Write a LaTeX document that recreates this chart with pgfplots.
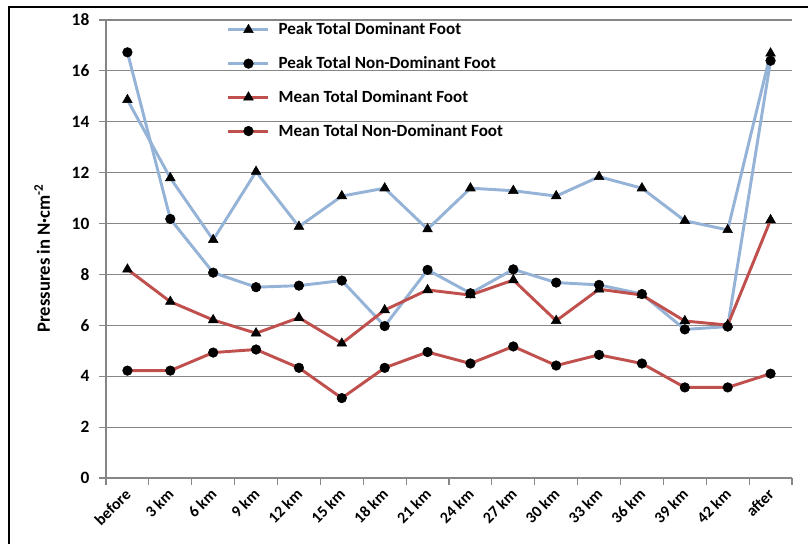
\documentclass[border=0pt]{standalone}
\usepackage{pgfplots}
\pgfplotsset{compat=1.18}
\usepackage{fontspec}
\setmainfont{Carlito}
\definecolor{pblue}{RGB}{149,179,215}
\definecolor{pred}{RGB}{192,80,77}
\definecolor{gridgray}{RGB}{134,134,134}
\pgfplotstableread{
x PD PN MD MN
0 14.86 16.73 8.20 4.22
1 11.79 10.18 6.93 4.22
2 9.36 8.07 6.21 4.93
3 12.04 7.50 5.69 5.05
4 9.88 7.56 6.30 4.33
5 11.08 7.76 5.29 3.14
6 11.39 5.97 6.60 4.33
7 9.78 8.18 7.39 4.95
8 11.39 7.26 7.19 4.50
9 11.29 8.20 7.78 5.17
10 11.08 7.68 6.18 4.42
11 11.84 7.59 7.42 4.84
12 11.39 7.23 7.19 4.50
13 10.11 5.84 6.17 3.56
14 9.75 5.95 6.01 3.56
15 16.69 16.40 10.14 4.10
}\datatable
\begin{document}
\begin{tikzpicture}
\useasboundingbox (-79.5pt,-49.5pt) rectangle (526.5pt,358.5pt);
\fill[white] (-79.5pt,-49.5pt) rectangle (526.5pt,358.5pt);
\draw[black, line width=1.5pt] (-72.75pt,-49.5pt) -- (-72.75pt,353.25pt) -- (526.5pt,353.25pt);
\begin{axis}[
 scale only axis, width=514.5pt, height=343.5pt,
 at={(0,0)}, anchor=south west,
 xmin=-0.5, xmax=15.5, ymin=0, ymax=18,
 xtick={0,...,15},
 xticklabels={before,3 km,6 km,9 km,12 km,15 km,18 km,21 km,24 km,27 km,30 km,33 km,36 km,39 km,42 km,after},
 major x tick style={draw=none},
 minor xtick={-0.5,0.5,...,15.5},
 ytick={0,2,...,18},
 ymajorgrids,
 grid style={gridgray, line width=0.8pt},
 axis x line*=bottom, axis y line*=left,
 axis line style={gridgray, line width=0.8pt},
 tick style={gridgray, line width=0.8pt},
 tick align=outside,
 major tick length=5pt, minor tick length=5pt,
 /pgf/number format/assume math mode=true,
 ticklabel style={font=\fontsize{12}{14}\selectfont\bfseries, text=black},
 yticklabel style={font=\fontsize{13}{15}\selectfont\bfseries, xshift=-4pt},
 xticklabel style={rotate=45, anchor=east, yshift=-4pt},
 ylabel={\bfseries Pressures in N·cm\textsuperscript{-2}},
 ylabel style={font=\fontsize{14}{16}\selectfont, at={(axis description cs:-0.093,0.48)}, anchor=center},
 legend cell align=left,
 legend style={draw=none, fill=none, at={(0.176,1.0)}, anchor=north west,
   font=\fontsize{12.8}{15}\selectfont\bfseries, row sep=10.8pt, inner sep=0pt, column sep=4.5pt},
 legend image code/.code={\draw[mark repeat=2,mark phase=2,#1] plot coordinates {(0pt,0pt) (15pt,0pt) (30pt,0pt)};},
]
\addplot[pblue, line width=2.2pt, mark=triangle*, mark size=4.2pt, mark options={draw=black, fill=black, line width=0.4pt}] table[x=x,y=PD] {\datatable};
\addlegendentry{Peak Total Dominant Foot}
\addplot[pblue, line width=2.2pt, mark=*, mark size=3.6pt, mark options={draw=black, fill=black, line width=0.4pt}] table[x=x,y=PN] {\datatable};
\addlegendentry{Peak Total Non-Dominant Foot}
\addplot[pred, line width=2.2pt, mark=triangle*, mark size=4.2pt, mark options={draw=black, fill=black, line width=0.4pt}] table[x=x,y=MD] {\datatable};
\addlegendentry{Mean Total Dominant Foot}
\addplot[pred, line width=2.2pt, mark=*, mark size=3.6pt, mark options={draw=black, fill=black, line width=0.4pt}] table[x=x,y=MN] {\datatable};
\addlegendentry{Mean Total Non-Dominant Foot}
\end{axis}
\end{tikzpicture}
\end{document}
